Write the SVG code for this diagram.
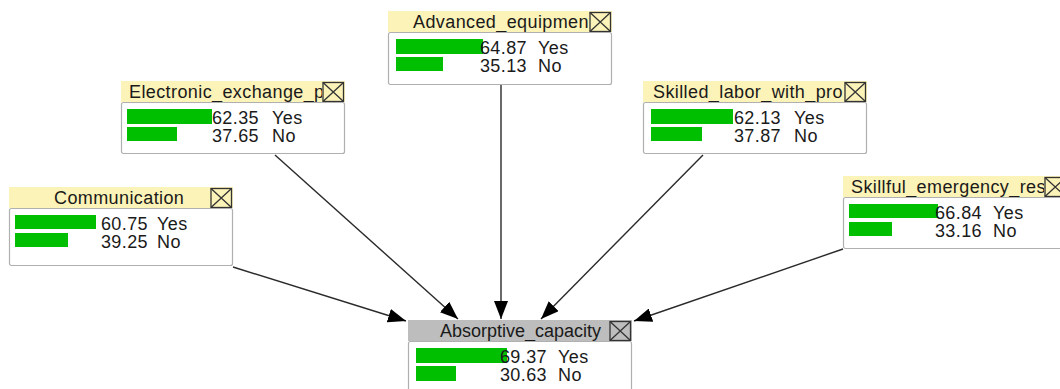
<svg xmlns="http://www.w3.org/2000/svg" width="1060" height="389" viewBox="0 0 1060 389">
<defs>
<style>
text{font-family:"Liberation Sans",Arial,sans-serif;font-size:18px;fill:#1a1a1a;letter-spacing:0.4px}
.tb{fill:#fcf3b8}
.tbg{fill:#bdbdbd}
.ic{fill:none;stroke:#333;stroke-width:1.3}
.box{fill:#fff;stroke:#b0b0b0;stroke-width:1.2}
.bar{fill:#00bf00}
.num{text-anchor:end}
.edge{stroke:#2a2a2a;stroke-width:1.4;fill:none;marker-end:url(#ah)}
</style>
<marker id="ah" markerUnits="userSpaceOnUse" markerWidth="18" markerHeight="14" refX="18" refY="7" orient="auto">
<path d="M0,0 L18,7 L0,14 z" fill="#000"/>
</marker>
<clipPath id="tc"><rect x="0" y="0" width="201" height="21"/></clipPath>
<g id="icon"><rect class="ic" x="202" y="1.5" width="20.5" height="19"/><path class="ic" d="M202,1.5 L222.5,20.5 M222.5,1.5 L202,20.5"/></g>
</defs>
<rect width="1060" height="389" fill="#fff"/>

<g id="connectors">
<line class="edge" x1="501" y1="85" x2="501" y2="319"/>
<line class="edge" x1="275" y1="155" x2="458" y2="319"/>
<line class="edge" x1="233" y1="267" x2="406" y2="321"/>
<line class="edge" x1="703" y1="155" x2="541" y2="319"/>
<line class="edge" x1="843" y1="249" x2="634" y2="321"/>
</g>

<g id="node-advanced" transform="translate(388,11)">
<rect class="tb" x="0" y="0" width="224" height="21"/>
<use href="#icon"/>
<text x="25" y="17" clip-path="url(#tc)">Advanced_equipment</text>
<rect class="box" x="0.5" y="21.5" width="223" height="52" rx="2"/>
<rect class="bar" x="8" y="28" width="87" height="15"/>
<rect class="bar" x="8" y="46" width="47" height="14"/>
<text class="num" x="139" y="43">64.87</text><text x="150" y="43">Yes</text>
<text class="num" x="139" y="61">35.13</text><text x="150" y="61">No</text>
</g>

<g id="node-electronic" transform="translate(121,81)">
<rect class="tb" x="0" y="0" width="224" height="21"/>
<use href="#icon"/>
<text x="8" y="17" clip-path="url(#tc)">Electronic_exchange_p</text>
<rect class="box" x="0.5" y="21.5" width="223" height="51" rx="2"/>
<rect class="bar" x="6" y="28" width="85" height="15"/>
<rect class="bar" x="6" y="46" width="50" height="14"/>
<text class="num" x="138" y="43">62.35</text><text x="151" y="43">Yes</text>
<text class="num" x="138" y="61">37.65</text><text x="151" y="61">No</text>
</g>

<g id="node-communication" transform="translate(9,187)">
<rect class="tb" x="0" y="0" width="224" height="21"/>
<use href="#icon"/>
<text x="45" y="17" clip-path="url(#tc)">Communication</text>
<rect class="box" x="0.5" y="21.5" width="223" height="57" rx="2"/>
<rect class="bar" x="6" y="28" width="81" height="14"/>
<rect class="bar" x="6" y="46" width="53" height="14"/>
<text class="num" x="139" y="43">60.75</text><text x="148" y="43">Yes</text>
<text class="num" x="139" y="61">39.25</text><text x="148" y="61">No</text>
</g>

<g id="node-skilled" transform="translate(643,81)">
<rect class="tb" x="0" y="0" width="224" height="21"/>
<use href="#icon"/>
<text x="10" y="17" clip-path="url(#tc)">Skilled_labor_with_pro</text>
<rect class="box" x="0.5" y="21.5" width="223" height="51" rx="2"/>
<rect class="bar" x="8" y="28" width="82" height="15"/>
<rect class="bar" x="8" y="46" width="51" height="14"/>
<text class="num" x="138" y="43">62.13</text><text x="151" y="43">Yes</text>
<text class="num" x="138" y="61">37.87</text><text x="151" y="61">No</text>
</g>

<g id="node-skillful" transform="translate(843,176)">
<rect class="tb" x="0" y="0" width="224" height="21"/>
<use href="#icon"/>
<text x="8" y="17" clip-path="url(#tc)">Skillful_emergency_res</text>
<rect class="box" x="0.5" y="21.5" width="223" height="51" rx="2"/>
<rect class="bar" x="6" y="28" width="89" height="14"/>
<rect class="bar" x="6" y="46" width="43" height="14"/>
<text class="num" x="139" y="43">66.84</text><text x="150" y="43">Yes</text>
<text class="num" x="139" y="61">33.16</text><text x="150" y="61">No</text>
</g>

<g id="node-absorptive" transform="translate(408,320)">
<rect class="tbg" x="0" y="0" width="224" height="21"/>
<use href="#icon"/>
<text x="32" y="17" style="letter-spacing:0" clip-path="url(#tc)">Absorptive_capacity</text>
<rect class="box" x="0.5" y="21.5" width="223" height="60" rx="2"/>
<rect class="bar" x="8" y="28" width="91" height="15"/>
<rect class="bar" x="8" y="46" width="40" height="15"/>
<text class="num" x="139" y="43">69.37</text><text x="150" y="43">Yes</text>
<text class="num" x="139" y="61">30.63</text><text x="150" y="61">No</text>
</g>
</svg>
